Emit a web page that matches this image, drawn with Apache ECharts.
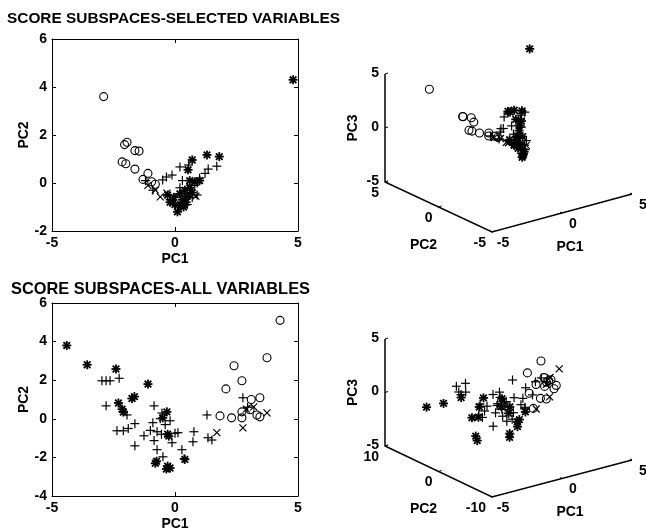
<!DOCTYPE html>
<html>
<head>
<meta charset="utf-8">
<script src="https://cdn.jsdelivr.net/npm/echarts@6/dist/echarts.min.js"></script>
<style>
html, body { margin: 0; padding: 0; background: #fff; }
#chart { width: 646px; height: 532px; }
</style>
</head>
<body>
<div id="chart"></div>
<script>
// ---- score subspaces, selected variables (PC1, PC2, PC3) ----
var selCirc1 = [-2.9, -2.05, -1.95, -1.63, -1.46, -2.15, -2.0, -1.63, -1.1, -1.3, -0.8, -0.95];
var selCirc2 = [3.6, 1.6, 1.7, 1.35, 1.33, 0.88, 0.8, 0.58, 0.4, 0.15, -0.05, 0.05];
var selCirc3 = [3.5, 1.6, 1.5, 1.45, 1.0, 0.7, 0.6, 0.4, 0.3, 0.2, 0.0, 0.1];

var selPlus1 = [-1.2, -0.9, -0.5, -0.35, -0.12, 0.2, 0.3, 0.55, 1.0, 1.22, 1.35, 1.7, 0.9, 0.6, 0.4, 0.7, 0.2, 0.0, -0.2, 0.15, 0.5, 0.9, 0.3, 0.8];
var selPlus2 = [0.1, -0.3, 0.13, 0.25, 0.33, 0.67, 0.1, 0.75, 0.2, 0.4, 0.58, 0.7, 0.0, -0.3, -0.45, -0.6, -0.2, -0.6, -0.7, -1.0, -0.9, -0.5, -0.8, -0.1];
var selPlus3 = [0.2, 0.0, 0.3, 0.5, 0.4, 1.2, 0.6, 1.5, 0.9, 1.3, 1.0, 1.1, 0.3, -0.4, -0.8, -1.0, 0.0, -0.6, -0.5, -1.4, -1.2, -0.7, -1.0, 0.5];

var selCross1 = [-0.6, -1.1, -0.8, -0.33, 0.6, 0.85];
var selCross2 = [-0.58, -0.1, -0.3, -0.42, -0.15, -0.55];
var selCross3 = [-0.3, 0.1, 0.0, -0.5, -0.6, -1.1];

var selStar1 = [4.8, 0.7, 1.3, 1.8, 0.53, -0.3, -0.2, 0.0, 0.1, 0.3, 0.4, 0.6, 0.8, 0.5, 0.2, 0.7, -0.05, 0.35, 1.0, 0.6, 0.45, 0.25];
var selStar2 = [4.3, 0.96, 1.17, 1.1, 0.55, -0.5, -0.8, -0.9, -1.2, -0.7, -0.3, -0.2, 0.05, -0.55, -0.45, -0.4, -0.6, -1.0, 0.1, 0.1, -0.8, -0.95];
var selStar3 = [4.2, 1.4, 1.2, 1.0, 1.6, -0.2, -0.6, -0.9, -1.5, -0.8, -0.2, 0.2, 0.5, -1.0, -0.4, -0.3, -0.7, -1.3, 0.8, 1.1, -1.6, -1.8];

// ---- score subspaces, all variables ----
var allCirc1 = [4.27, 3.74, 2.4, 2.72, 2.07, 3.45, 1.83, 2.3, 2.72, 3.05, 3.33, 3.45, 2.72, 3.1];
var allCirc2 = [5.1, 3.16, 2.75, 1.97, 1.55, 1.09, 0.15, 0.05, 0.36, 0.47, 0.2, 0.1, 0.05, 1.0];
var allCirc3 = [0.9, 0.0, 1.0, 0.0, -0.5, 0.4, -1.5, -0.7, 0.2, 0.6, -0.2, 0.1, -0.9, 0.3];

var allPlus1 = [-2.97, -2.8, -2.64, -2.27, -2.8, -1.95, -2.36, -2.1, -1.9, -1.63, -1.26, -1.63, -0.85, -0.9, -0.73, -0.85, -0.73, -0.53, -0.2, 0.12, -0.12, 0.28, 0.37, -0.49, 1.3, 0.77, 0.73, 1.34, 1.5, 2.76, -0.6, -0.4, -0.55, -1.0, 2.95, 0.0];
var allPlus2 = [1.97, 1.97, 1.97, 2.1, 0.67, 0.2, -0.62, -0.62, -0.5, -0.25, -0.88, -1.4, 0.67, -0.2, -0.67, -1.13, -1.6, 0.3, -0.1, -0.72, -1.24, -1.6, -2.07, -1.97, 0.2, -0.67, -1.19, -0.98, -1.1, 1.09, 0.0, -0.3, -0.8, -0.6, 0.6, -0.75];
var allPlus3 = [1.8, 1.2, 0.9, 1.8, 1.5, 0.2, -0.5, -0.8, -0.3, 0.0, -0.6, -1.6, 0.6, -0.2, -0.5, -1.0, -1.4, 0.8, -0.1, 0.3, -0.9, -0.2, -0.5, -1.2, 0.6, 0.0, -0.7, 0.2, 1.4, 0.8, 0.4, -0.1, -0.3, 0.1, 0.5, 2.0];

var allCross1 = [1.7, 2.76, 3.74, 3.2, 2.9];
var allCross2 = [-0.72, -0.47, 0.31, 0.62, 0.5];
var allCross3 = [-1.3, -0.6, 1.5, 0.8, 0.3];

var allStar1 = [-4.4, -3.57, -2.4, -1.1, -1.75, -1.65, -2.3, -2.15, -2.1, -0.33, -0.5, -0.3, -0.25, -0.75, -0.8, -0.3, -0.2, -0.35, 0.4];
var allStar2 = [3.8, 2.8, 2.58, 1.8, 1.05, 1.15, 0.82, 0.5, 0.35, 0.36, 0.05, -0.8, -0.9, -2.2, -2.3, -2.45, -2.55, -2.6, -2.1];
var allStar3 = [-0.1, 0.2, 0.4, 0.1, -1.3, -0.4, -1.1, -2.8, -3.2, 0.1, -0.5, -1.0, -0.4, -2.4, -2.7, -1.4, -1.2, -1.8, -0.8];

// tick labels of the 3d boxes
var topTicksPC1 = [-5, 0, 5], topTicksPC2 = [-5, 0, 5], topTicksPC3 = [-5, 0, 5];
var botTicksPC1 = [-5, 0, 5], botTicksPC2 = [-10, 0, 10], botTicksPC3 = [-5, 0, 5];

var FONT = '"Liberation Sans", Arial, sans-serif';
var TXT = 'bold 14px ' + FONT;

// 3d views (matlab default az/el), in pixels
var viewTop = { corner: [492, 232], ex: [140, -38], ey: [-107, -50], ez: [0, -108],
  xr: [-5, 5], yr: [-5, 5], zr: [-5, 5], xt: topTicksPC1, yt: topTicksPC2, zt: topTicksPC3 };
var viewBot = { corner: [492, 497], ex: [140, -37], ey: [-107, -51], ez: [0, -107],
  xr: [-5, 5], yr: [-10, 10], zr: [-5, 5], xt: botTicksPC1, yt: botTicksPC2, zt: botTicksPC3 };

function project(v, a, b, c) {
  var fx = (a - v.xr[0]) / (v.xr[1] - v.xr[0]);
  var fy = (b - v.yr[0]) / (v.yr[1] - v.yr[0]);
  var fz = (c - v.zr[0]) / (v.zr[1] - v.zr[0]);
  return [v.corner[0] + fx * v.ex[0] + fy * v.ey[0] + fz * v.ez[0],
          v.corner[1] + fx * v.ex[1] + fy * v.ey[1] + fz * v.ez[1]];
}

function zip(a, b, c) {
  return a.map(function (v, i) { return c ? [v, b[i], c[i]] : [v, b[i]]; });
}

// marker shapes like matlab 'o', '+', 'x', '*'
function mark(kind, p) {
  var x = p[0], y = p[1];
  if (kind === 'o') {
    return { type: 'circle', shape: { cx: x, cy: y, r: 4 }, style: { fill: 'none', stroke: '#000', lineWidth: 1.1 } };
  }
  var segs;
  if (kind === '+') segs = [[0, -4.5, 0, 4.5], [-4.5, 0, 4.5, 0]];
  else if (kind === 'x') segs = [[-3.5, -3.5, 3.5, 3.5], [-3.5, 3.5, 3.5, -3.5]];
  else segs = [[0, -4.5, 0, 4.5], [-4.5, 0, 4.5, 0], [-3.3, -3.3, 3.3, 3.3], [-3.3, 3.3, 3.3, -3.3]];
  return {
    type: 'group',
    children: segs.map(function (s) {
      return { type: 'line', shape: { x1: x + s[0], y1: y + s[1], x2: x + s[2], y2: y + s[3] },
        style: { stroke: '#000', lineWidth: kind === '*' ? 1.8 : 1.2 } };
    })
  };
}

function series2d(idx, kind, a, b) {
  return {
    type: 'custom', xAxisIndex: idx, yAxisIndex: idx, data: zip(a, b),
    renderItem: function (params, api) {
      return mark(kind, api.coord([api.value(0), api.value(1)]));
    }
  };
}

function series3d(v, kind, a, b, c) {
  return {
    type: 'custom', xAxisIndex: 4, yAxisIndex: 4, data: zip(a, b, c),
    renderItem: function (params, api) {
      return mark(kind, api.coord(project(v, api.value(0), api.value(1), api.value(2))));
    }
  };
}

function text(x, y, s, align, va, rot) {
  return { type: 'text', x: x, y: y, rotation: rot || 0,
    style: { text: s, font: TXT, fill: '#000', align: align, verticalAlign: va, textAlign: align, textVerticalAlign: va } };
}

function frame3d(v) {
  return {
    type: 'custom', xAxisIndex: 4, yAxisIndex: 4, data: [[0, 0]], silent: true,
    renderItem: function (params, api) {
      var P = function (a, b, c) { return api.coord(project(v, a, b, c)); };
      var kids = [];
      var pts = [P(v.xr[0], v.yr[1], v.zr[1]), P(v.xr[0], v.yr[1], v.zr[0]),
                 P(v.xr[0], v.yr[0], v.zr[0]), P(v.xr[1], v.yr[0], v.zr[0])];
      kids.push({ type: 'polyline', shape: { points: pts }, style: { stroke: '#000', lineWidth: 1.5, fill: 'none' } });
      v.zt.forEach(function (t) {
        var q = P(v.xr[0], v.yr[1], t);
        kids.push({ type: 'line', shape: { x1: q[0], y1: q[1], x2: q[0] + 3, y2: q[1] - 1 }, style: { stroke: '#000', lineWidth: 1 } });
        kids.push(text(q[0] - 6, q[1] - 1, String(t), 'right', 'middle'));
      });
      v.yt.forEach(function (t) {
        var q = P(v.xr[0], t, v.zr[0]);
        kids.push({ type: 'line', shape: { x1: q[0], y1: q[1], x2: q[0] + 3, y2: q[1] - 1 }, style: { stroke: '#000', lineWidth: 1 } });
        kids.push(text(q[0] - 6, q[1] + 11, String(t), 'right', 'middle'));
      });
      v.xt.forEach(function (t) {
        var q = P(t, v.yr[0], v.zr[0]);
        kids.push({ type: 'line', shape: { x1: q[0], y1: q[1], x2: q[0] - 2, y2: q[1] - 1 }, style: { stroke: '#000', lineWidth: 1 } });
        kids.push(text(q[0] + 11, q[1] + 11, String(t), 'center', 'middle'));
      });
      var m1 = P((v.xr[0] + v.xr[1]) / 2, v.yr[0], v.zr[0]);
      var m2 = P(v.xr[0], (v.yr[0] + v.yr[1]) / 2, v.zr[0]);
      var m3 = P(v.xr[0], v.yr[1], (v.zr[0] + v.zr[1]) / 2);
      kids.push(text(m1[0] + 8, m1[1] + 34, 'PC1', 'center', 'middle'));
      kids.push(text(m2[0] - 15, m2[1] + 38, 'PC2', 'center', 'middle'));
      kids.push(text(m3[0] - 32, m3[1], 'PC3', 'center', 'middle', Math.PI / 2));
      return { type: 'group', children: kids };
    }
  };
}

function xAx(grid, pos, labels) {
  return {
    type: 'value', gridIndex: grid, position: pos, min: -5, max: 5, interval: 5,
    name: labels ? 'PC1' : '', nameLocation: 'middle', nameGap: 21,
    nameTextStyle: { color: '#000', fontSize: 14, fontWeight: 'bold', fontFamily: FONT },
    axisLine: { onZero: false, lineStyle: { color: '#000', width: 1 } },
    axisTick: { inside: true, length: 4, lineStyle: { color: '#000' } },
    axisLabel: { show: labels, color: '#000', fontSize: 14, fontWeight: 'bold', fontFamily: FONT, margin: 5 },
    splitLine: { show: false }
  };
}
function yAx(grid, pos, labels, min) {
  return {
    type: 'value', gridIndex: grid, position: pos, min: min, max: 6, interval: 2,
    name: labels ? 'PC2' : '', nameLocation: 'middle', nameGap: 20,
    nameTextStyle: { color: '#000', fontSize: 14, fontWeight: 'bold', fontFamily: FONT },
    axisLine: { onZero: false, lineStyle: { color: '#000', width: 1 } },
    axisTick: { inside: true, length: 4, lineStyle: { color: '#000' } },
    axisLabel: { show: labels, color: '#000', fontSize: 14, fontWeight: 'bold', fontFamily: FONT, margin: 5 },
    splitLine: { show: false }
  };
}

var chart = echarts.init(document.getElementById('chart'));

var option = {
  animation: false,
  backgroundColor: '#fff',
  title: [
    { text: 'SCORE SUBSPACES-SELECTED VARIABLES', left: 7, top: 11, padding: 0,
      textStyle: { color: '#000', fontSize: 15.4, fontWeight: 'bold', fontFamily: FONT } },
    { text: 'SCORE SUBSPACES-ALL VARIABLES', left: 11, top: 281, padding: 0,
      textStyle: { color: '#000', fontSize: 16.4, fontWeight: 'bold', fontFamily: FONT } }
  ],
  grid: [
    { left: 52, top: 39, width: 246, height: 192 },
    { left: 52, top: 303, width: 246, height: 194 },
    { left: 0, top: 0, width: 646, height: 532 }
  ],
  xAxis: [
    xAx(0, 'bottom', true), xAx(0, 'top', false),
    xAx(1, 'bottom', true), xAx(1, 'top', false),
    { type: 'value', gridIndex: 2, min: 0, max: 646, show: false }
  ],
  yAxis: [
    yAx(0, 'left', true, -2), yAx(0, 'right', false, -2),
    yAx(1, 'left', true, -4), yAx(1, 'right', false, -4),
    { type: 'value', gridIndex: 2, min: 0, max: 532, inverse: true, show: false }
  ],
  series: [
    series2d(0, 'o', selCirc1, selCirc2),
    series2d(0, '+', selPlus1, selPlus2),
    series2d(0, 'x', selCross1, selCross2),
    series2d(0, '*', selStar1, selStar2),
    series2d(2, 'o', allCirc1, allCirc2),
    series2d(2, '+', allPlus1, allPlus2),
    series2d(2, 'x', allCross1, allCross2),
    series2d(2, '*', allStar1, allStar2),
    frame3d(viewTop),
    series3d(viewTop, 'o', selCirc1, selCirc2, selCirc3),
    series3d(viewTop, '+', selPlus1, selPlus2, selPlus3),
    series3d(viewTop, 'x', selCross1, selCross2, selCross3),
    series3d(viewTop, '*', selStar1, selStar2, selStar3),
    frame3d(viewBot),
    series3d(viewBot, 'o', allCirc1, allCirc2, allCirc3),
    series3d(viewBot, '+', allPlus1, allPlus2, allPlus3),
    series3d(viewBot, 'x', allCross1, allCross2, allCross3),
    series3d(viewBot, '*', allStar1, allStar2, allStar3)
  ]
};

chart.setOption(option);
</script>
</body>
</html>
